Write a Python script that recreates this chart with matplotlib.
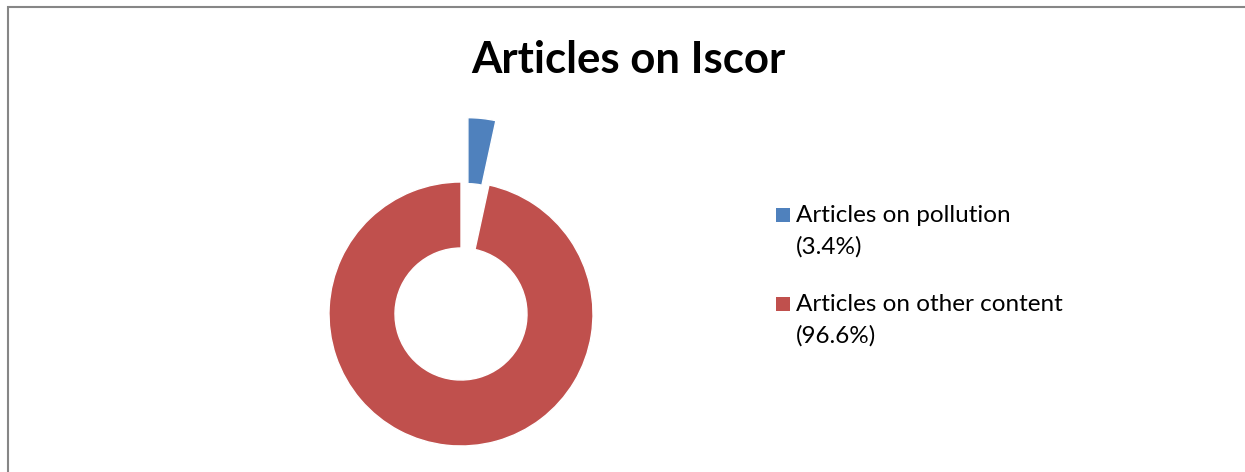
import matplotlib
matplotlib.use("Agg")
import matplotlib.pyplot as plt
from matplotlib.patches import Rectangle

# data
labels = ["Articles on pollution", "Articles on other content"]
shares = [3.4, 96.6]
colors = ["#4F81BD", "#C0504D"]
title = "Articles on Iscor"

W, H = 1245, 472
plt.rcParams['font.family'] = ['Lato', 'DejaVu Sans']

fig = plt.figure(figsize=(W / 100, H / 100), dpi=100)

# chart frame (only the left and top edges fall inside the picture)
fig.add_artist(Rectangle((7.5 / W, -0.1), 1.2, 1.1 - 7.5 / H,
                         transform=fig.transFigure, fill=False,
                         edgecolor="#868686", linewidth=1.5))

# pie area: centre at (461, 314) px, radius 132 px
cx, cy, r = 461, 314, 132
half = 220
ax = fig.add_axes([(cx - half) / W, (H - cy - half) / H, 2 * half / W, 2 * half / H])
wedges, _ = ax.pie(shares, colors=colors, startangle=90, counterclock=False,
                   explode=[0.49, 0], radius=1.0,
                   wedgeprops=dict(width=0.5, edgecolor="white", linewidth=1))
lim = half / r
ax.set_xlim(-lim, lim)
ax.set_ylim(-lim, lim)
ax.set_aspect("equal")
ax.axis("off")

fig.text(628 / W, 1 - 60 / H, title, ha="center", va="center",
         fontsize=31.5, fontweight="bold")

# legend, drawn by hand so the key sits beside the first line
for i, (lab, s, c) in enumerate(zip(labels, shares, colors)):
    top = 208 + 89 * i
    fig.add_artist(Rectangle((776 / W, 1 - (top + 14) / H), 14 / W, 14 / H,
                             transform=fig.transFigure, facecolor=c,
                             edgecolor="none"))
    fig.text(796 / W, 1 - (top - 3) / H, f"{lab}\n({s}%)", ha="left",
             va="top", fontsize=17.5, linespacing=1.55)

fig.savefig("out.png", dpi=100)
